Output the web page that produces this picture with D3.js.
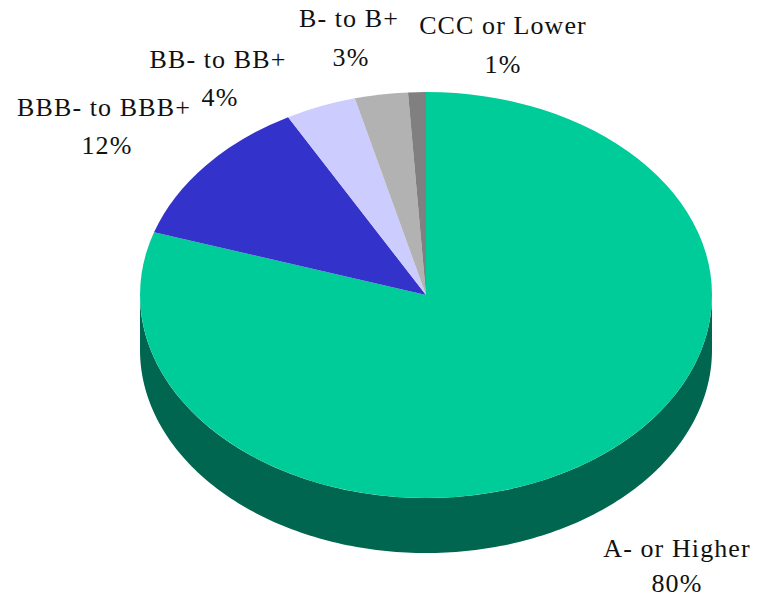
<!DOCTYPE html>
<html>
<head>
<meta charset="utf-8">
<script src="https://cdn.jsdelivr.net/npm/d3@7"></script>
<style>
  html, body { margin: 0; padding: 0; background: #fff; }
  svg { display: block; }
  text { font-family: "Liberation Serif", serif; font-size: 26px; letter-spacing: 1.1px; fill: #111; }
</style>
</head>
<body>
<svg id="chart" width="769" height="598"></svg>
<script>
const categories = ["A- or Higher", "BBB- to BBB+", "BB- to BB+", "B- to B+", "CCC or Lower"];
const shares = [80, 12, 4, 3, 1];
const topColors = ["#00cc99", "#3333cc", "#ccccff", "#b2b2b2", "#808080"];
const sideColor = "#006650";

const cx = 426, cy = 295, rx = 286, ry = 203, depth = 55;
const svg = d3.select("#chart");

const slices = d3.pie().sort(null).value(d => d)(shares);

// Unit-circle arc, flattened to an ellipse by the group's transform.
const arc = d3.arc().innerRadius(0).outerRadius(1);

// Visible rim: the lower half of the ellipse swept downward by the depth.
const xScale = d3.scaleLinear().domain([-1, 1]).range([cx - rx, cx + rx]);
const yScale = d3.scaleLinear().domain([-1, 1]).range([cy - ry, cy + ry]);
const rimAngles = d3.range(90, 270.5, 1).map(d => d * Math.PI / 180);
const rimPoint = (a, dy) => [xScale(Math.sin(a)), yScale(-Math.cos(a)) + dy];
const rim = rimAngles.map(a => rimPoint(a, 0))
  .concat(rimAngles.slice().reverse().map(a => rimPoint(a, depth)));
svg.append("path")
  .attr("d", d3.line()(rim) + "Z")
  .attr("fill", sideColor);

svg.append("g")
  .attr("transform", `translate(${cx},${cy}) scale(${rx},${ry})`)
  .selectAll("path")
  .data(slices)
  .join("path")
  .attr("d", arc)
  .attr("fill", (d, i) => topColors[i]);

// Two-line labels: category name above its percentage.
const labelX = [677, 104, 218, 349, 503];
const percentX = [677, 107, 220, 351, 503];
const labelY = [557, 116, 68, 27, 34];
const labelGap = [35, 38, 38, 39, 39];
const labels = svg.append("g").selectAll("text")
  .data(categories)
  .join("text")
  .attr("text-anchor", "middle")
  .attr("x", (d, i) => labelX[i])
  .attr("y", (d, i) => labelY[i]);
labels.append("tspan").attr("x", (d, i) => labelX[i]).text(d => d);
labels.append("tspan").attr("x", (d, i) => percentX[i]).attr("dy", (d, i) => labelGap[i]).text((d, i) => shares[i] + "%");
</script>
</body>
</html>
